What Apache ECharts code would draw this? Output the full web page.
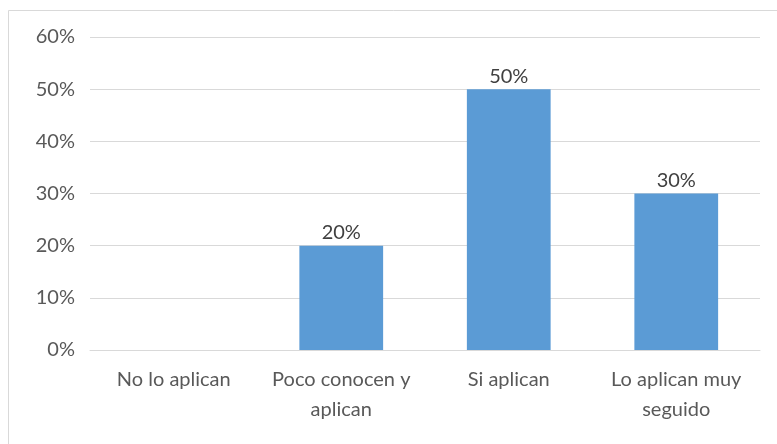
<!DOCTYPE html>
<html>
<head>
<meta charset="utf-8">
<script src="https://cdn.jsdelivr.net/npm/echarts@6/dist/echarts.min.js"></script>
<style>
  html, body { margin: 0; padding: 0; background: #fff; }
  #chart { width: 777px; height: 444px; }
</style>
</head>
<body>
<div id="chart"></div>
<script>
// datos
var categorias = ['No lo aplican', 'Poco conocen y\naplican', 'Si aplican', 'Lo aplican muy\nseguido'];
var valores = [0, 20, 50, 30];

var myChart = echarts.init(document.getElementById('chart'));

var option = {
    backgroundColor: '#fff',
    animation: false,
    textStyle: { fontFamily: 'Lato' },
    graphic: [{
        type: 'rect',
        shape: { x: 8.5, y: 10.5, width: 900, height: 600 },
        style: { fill: 'none', stroke: '#d9d9d9', lineWidth: 1 },
        silent: true
    }],
    grid: {
        left: 90,
        right: 17,
        top: 37,
        bottom: 94
    },
    xAxis: {
        type: 'category',
        data: categorias,
        axisLine: { lineStyle: { color: '#d9d9d9' } },
        axisTick: { show: false },
        axisLabel: {
            color: '#595959',
            fontSize: 20,
            margin: 15,
            lineHeight: 30,
            interval: 0
        }
    },
    yAxis: {
        type: 'value',
        min: 0,
        max: 60,
        interval: 10,
        axisLine: { show: false },
        axisTick: { show: false },
        splitLine: { lineStyle: { color: '#d9d9d9' } },
        axisLabel: {
            color: '#595959',
            fontSize: 20,
            margin: 15,
            formatter: '{value}%'
        }
    },
    series: [{
        type: 'bar',
        data: valores,
        barWidth: '50%',
        itemStyle: { color: '#5b9bd5' },
        label: {
            show: true,
            position: 'top',
            color: '#404040',
            fontSize: 20,
            distance: 3,
            formatter: function (p) { return p.value ? p.value + '%' : ''; }
        }
    }]
};

myChart.setOption(option);
</script>
</body>
</html>
